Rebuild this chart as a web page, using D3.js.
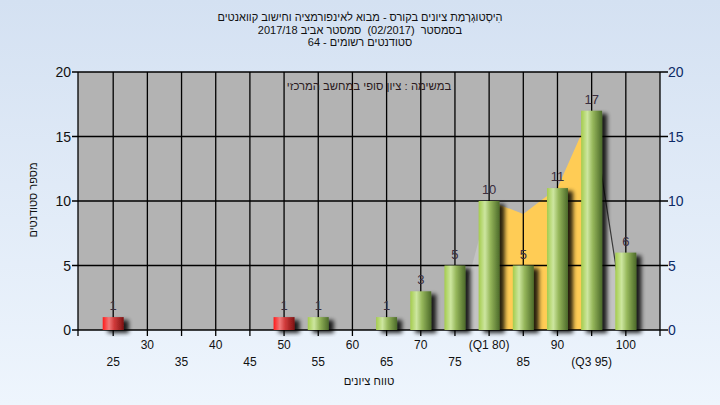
<!DOCTYPE html>
<html><head><meta charset="utf-8">
<script src="https://cdn.jsdelivr.net/npm/d3@7"></script>
<style>
html,body{margin:0;padding:0;}
body{width:720px;height:405px;overflow:hidden;}
text{font-family:"Liberation Sans",Arial,sans-serif;white-space:pre;}
</style></head>
<body>
<svg id="chart" width="720" height="405"></svg>
<script>
const categories = [25,30,35,40,45,50,55,60,65,70,75,80,85,90,95,100];
const counts = [1,0,0,0,0,1,1,0,1,3,5,10,5,11,17,6];
const tickLabels = ["25","30","35","40","45","50","55","60","65","70","75","(Q1 80)","85","90","(Q3 95)","100"];
const yTicks = [0,5,10,15,20];
const areaX = [75,80,85,90,95,100];
const areaY = [0,10,9,11,17,0];
const quartiles = [80,95];
const passMark = 55;
const titleLines = ["הִיסְטוגְרָמַת ציונים בקורס - מבוא לאינפורמציה וחישוב קוואנטים",
  "בסמסטר  (02/2017)  סמסטר אביב 2017/18",
  "סטודנטים רשומים - 64"];
const subTitle = "במשימה : ציון סופי במחשב המרכזי";
const xTitle = "טווח ציונים";
const yTitle = "מספר סטודנטים";

const svg = d3.select("#chart");
const defs = svg.append("defs");
const bg = defs.append("linearGradient").attr("id","bg").attr("x1",0).attr("y1",0).attr("x2",0).attr("y2",1);
bg.append("stop").attr("offset","0%").attr("stop-color","#d4e1f2");
bg.append("stop").attr("offset","100%").attr("stop-color","#eef5fd");
const gG = defs.append("linearGradient").attr("id","gGreen");
[["0%","#a4cc4c"],["30%","#cde6a0"],["55%","#97b85c"],["85%","#65843a"],["100%","#4c6a2a"]].forEach(s=>gG.append("stop").attr("offset",s[0]).attr("stop-color",s[1]));
const gR = defs.append("linearGradient").attr("id","gRed");
[["0%","#ff1a1a"],["30%","#f07a7a"],["55%","#d03a3a"],["85%","#9a2020"],["100%","#7a1515"]].forEach(s=>gR.append("stop").attr("offset",s[0]).attr("stop-color",s[1]));
const sh = defs.append("filter").attr("id","shadow").attr("x","-50%").attr("y","-50%").attr("width","200%").attr("height","200%");
sh.append("feGaussianBlur").attr("in","SourceAlpha").attr("stdDeviation",2).attr("result","b");
sh.append("feOffset").attr("in","b").attr("dx",5).attr("dy",3).attr("result","o");
sh.append("feComponentTransfer").attr("in","o").attr("result","o2").append("feFuncA").attr("type","linear").attr("slope",0.85);
const mg = sh.append("feMerge"); mg.append("feMergeNode").attr("in","o2"); mg.append("feMergeNode").attr("in","SourceGraphic");

svg.append("rect").attr("width",720).attr("height",405).attr("fill","url(#bg)");

const L=78,R=660,T=72,B=330;
const x = d3.scaleLinear().domain([19.85,105]).range([L,R]);
const y = d3.scaleLinear().domain([0,20]).range([B,T]);

svg.append("rect").attr("x",L).attr("y",T).attr("width",R-L).attr("height",B-T).attr("fill","#b3b3b3");

// area behind bars
const pts = areaX.map((v,i)=>[v,areaY[i]]);
const area = d3.area().x(d=>x(d[0])).y0(y(0)).y1(d=>y(d[1]));
const inR = (a,b)=>pts.filter(p=>p[0]>=a && p[0]<=b);
svg.append("path").datum(inR(areaX[0],quartiles[0])).attr("d",area).attr("fill","#c3c3c3");
svg.append("path").datum(inR(quartiles[1],areaX[areaX.length-1])).attr("d",area).attr("fill","#c3c3c3");
svg.append("path").datum(inR(quartiles[0],quartiles[1])).attr("d",area).attr("fill","#ffcc55");
svg.append("path").datum(inR(quartiles[1],areaX[areaX.length-1])).attr("d",d3.line().x(d=>x(d[0])).y(d=>y(d[1]))).attr("fill","none").attr("stroke","#3a3a3a").attr("stroke-width",1.2);

// grid
const grid = svg.append("g").attr("stroke","#000").attr("stroke-width",1.3);
yTicks.forEach(t=>grid.append("line").attr("x1",L-6).attr("x2",R+8).attr("y1",y(t)).attr("y2",y(t)));
categories.forEach(c=>grid.append("line").attr("x1",x(c)).attr("x2",x(c)).attr("y1",T).attr("y2",B+6));
grid.append("line").attr("x1",L).attr("x2",L).attr("y1",T).attr("y2",B+6);
grid.append("line").attr("x1",R).attr("x2",R).attr("y1",T).attr("y2",B+6);

// x-axis labels
svg.append("g").selectAll("text").data(categories).join("text")
  .attr("x",d=>x(d)).attr("y",(d,i)=>i%2? 349 : 366)
  .attr("text-anchor","middle").attr("font-size",12).attr("fill","#111")
  .text((d,i)=>tickLabels[i]);

// y labels
svg.append("g").selectAll("text").data(yTicks).join("text")
  .attr("x",L-7).attr("y",d=>y(d)+5).attr("text-anchor","end").attr("font-size",14).attr("fill","#111").text(d=>d);
svg.append("g").selectAll("text").data(yTicks).join("text")
  .attr("x",R+8).attr("y",d=>y(d)+5).attr("text-anchor","start").attr("font-size",14).attr("fill","#0c2a66").text(d=>d);

// bars
const bw = 21;
const barData = categories.map((c,i)=>({c,v:counts[i]})).filter(d=>d.v>0);
svg.append("g").selectAll("rect").data(barData).join("rect")
  .attr("x",d=>x(d.c)-bw/2).attr("width",bw)
  .attr("y",d=>y(d.v)).attr("height",d=>y(0)-y(d.v))
  .attr("fill",d=>d.c<passMark?"url(#gRed)":"url(#gGreen)")
  .attr("filter","url(#shadow)");
svg.append("g").selectAll("text").data(barData).join("text")
  .attr("x",d=>x(d.c)).attr("y",d=>y(d.v)-7)
  .attr("text-anchor","middle").attr("font-size",13).attr("fill","#3a2e3e").text(d=>d.v);

// texts
svg.append("text").attr("x",369).attr("y",90).attr("text-anchor","middle").attr("direction","rtl").attr("font-size",11.3).attr("fill","#2a1a20").text(subTitle);
titleLines.forEach((t,i)=>svg.append("text").attr("x",360).attr("y",21+i*12.5).attr("text-anchor","middle").attr("direction","rtl").attr("font-size",11).attr("fill","#111").text(t));
svg.append("text").attr("x",369).attr("y",385).attr("text-anchor","middle").attr("direction","rtl").attr("font-size",11.3).attr("fill","#111").text(xTitle);
svg.append("text").attr("transform","translate(37,200) rotate(-90)").attr("text-anchor","middle").attr("direction","rtl").attr("font-size",11).attr("fill","#111").text(yTitle);
</script>
</body></html>
